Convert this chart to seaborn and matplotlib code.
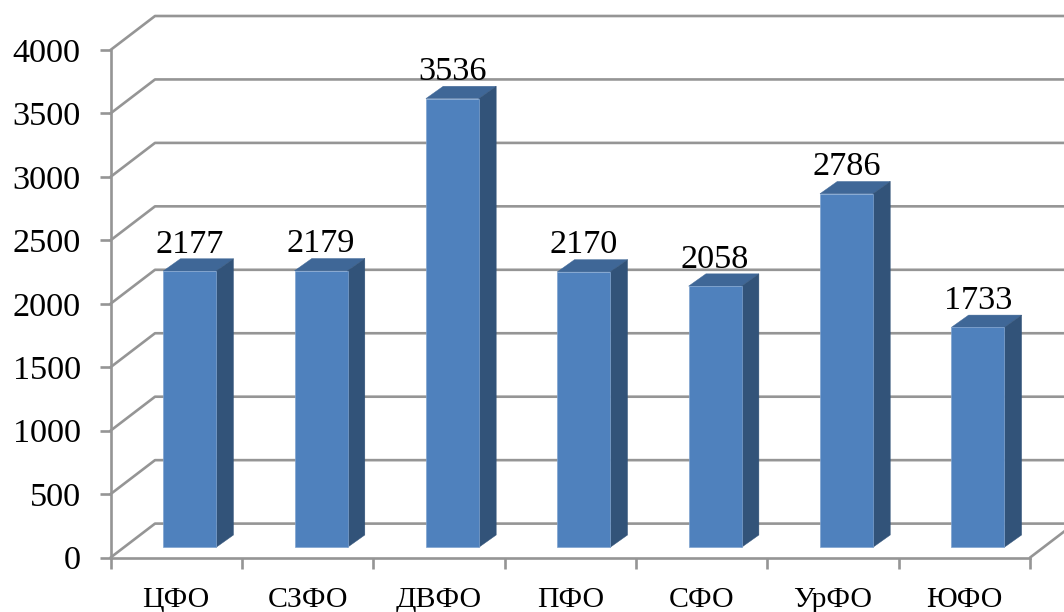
import matplotlib
matplotlib.use("Agg")
import matplotlib.pyplot as plt
from matplotlib.patches import Polygon
from matplotlib.transforms import Affine2D
import pandas as pd
import seaborn as sns

categories = ["ЦФО", "СЗФО", "ДВФО", "ПФО", "СФО", "УрФО", "ЮФО"]
values = [2177, 2179, 3536, 2170, 2058, 2786, 1733]
y_ticks = [0, 500, 1000, 1500, 2000, 2500, 3000, 3500, 4000]

W, H, DPI = 1064, 612, 100
FONT = ["Liberation Serif", "DejaVu Serif"]
GRID = "#959595"
FRONT, TOP, SIDE = "#4F81BD", "#3F6797", "#325379"

sns.set_theme(style="white")
plt.rcParams["font.family"] = FONT

fig = plt.figure(figsize=(W / DPI, H / DPI), dpi=DPI, facecolor="white")
L, R, B, T = 110.5, 1030.0, 557.6, 50.0
ax = fig.add_axes([L / W, (H - B) / H, (R - L) / W, (B - T) / H])

df = pd.DataFrame({"cat": categories, "val": values})
sns.barplot(data=df, x="cat", y="val", color=FRONT, saturation=1, width=53 / 131.36, ax=ax, zorder=3)
ax.set_xlim(-0.5, len(categories) - 0.5)
ax.set_ylim(0, 4000)
ax.set_xlabel("")
ax.set_ylabel("")


def shifted(dx, dy):
    return ax.transData + Affine2D().translate(dx, dy)


# depth of the chart box and of the bars, in pixels
WALL = (44.5, 34.0)
BAR_SHIFT = (13.5, 10.3)
BAR_DEPTH = (17.3, 12.3)

# back wall gridlines, side wall diagonals
right_px = 1070
for v in y_ticks:
    x0, y0 = ax.transData.transform((-0.5, v))
    ax.plot([x0, x0 + WALL[0], right_px], [y0, y0 + WALL[1], y0 + WALL[1]],
            transform=None, color=GRID, lw=1.9, zorder=1, clip_on=False, solid_joinstyle="round")

# floor right edge
x1, y1 = ax.transData.transform((len(categories) - 0.5, 0))
ax.plot([x1, x1 + WALL[0]], [y1, y1 + WALL[1]], transform=None, color=GRID, lw=1.9, zorder=1, clip_on=False)

# bars: front, top and side faces
for patch, val, cat in zip(ax.patches, values, categories):
    patch.set_transform(shifted(*BAR_SHIFT))
    patch.set_edgecolor("#7fa3cf")
    patch.set_linewidth(0.5)
    xl = patch.get_x()
    xr = xl + patch.get_width()
    t = shifted(*BAR_SHIFT)
    (px0, py0), (px1, py1) = t.transform([(xl, 0), (xr, val)])
    dx, dy = BAR_DEPTH
    ax.add_patch(Polygon([(px0, py1), (px1, py1), (px1 + dx, py1 + dy), (px0 + dx, py1 + dy)],
                         closed=True, transform=None, facecolor=TOP, edgecolor=TOP, lw=0.3, zorder=2.9, clip_on=False))
    ax.add_patch(Polygon([(px1, py0), (px1 + dx, py0 + dy), (px1 + dx, py1 + dy), (px1, py1)],
                         closed=True, transform=None, facecolor=SIDE, edgecolor=SIDE, lw=0.3, zorder=2.9, clip_on=False))
    ax.text((px0 + px1) / 2, py1 + 11.5, str(val), transform=None, ha="center", va="bottom",
            fontsize=24.7, color="black", zorder=5)

# axes
for s in ("top", "right"):
    ax.spines[s].set_visible(False)
for s in ("left", "bottom"):
    ax.spines[s].set_color(GRID)
    ax.spines[s].set_linewidth(1.9)
    ax.spines[s].set_zorder(2)
ax.patch.set_alpha(0)

ax.set_yticks(y_ticks)
ax.set_yticklabels([str(v) for v in y_ticks])
ax.set_xticks([i - 0.5 for i in range(len(categories) + 1)], minor=True)
ax.set_xticks(range(len(categories)))
ax.set_xticklabels(categories)
ax.tick_params(axis="x", which="major", bottom=False, pad=15.5, labelsize=21.5, colors="black")
ax.tick_params(axis="x", which="minor", bottom=True, length=8, width=1.9, color=GRID)
ax.tick_params(axis="y", which="major", left=True, length=8, width=1.9, color=GRID, pad=13.5, labelsize=24.7, labelcolor="black")

fig.savefig("out.png", dpi=DPI, facecolor="white")
